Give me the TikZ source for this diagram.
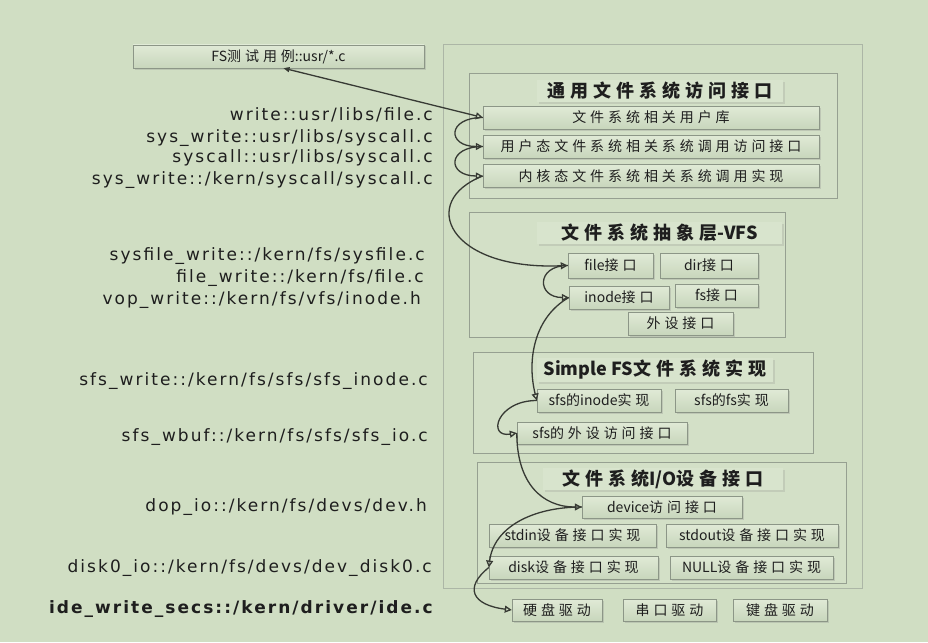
\documentclass[tikz,border=0pt]{standalone}
\usepackage{fontspec}
\setmainfont{DejaVu Sans}
\newfontfamily\srcfont[LetterSpace=12]{DejaVu Sans}
\newfontfamily\cjkfont[LetterSpace=28]{Noto Sans CJK SC}
\newfontfamily\cjkplain{Noto Sans CJK SC}
\newcommand{\lat}[1]{{\cjkplain #1}}
\usetikzlibrary{arrows.meta,shadows}
\definecolor{bgcol}{RGB}{208,222,195}
\definecolor{framecol}{RGB}{172,182,166}
\definecolor{layercol}{RGB}{150,160,145}
\definecolor{layerfill}{RGB}{211,224,199}
\definecolor{itemline}{RGB}{140,150,135}
\definecolor{itemtop}{RGB}{224,234,214}
\definecolor{itembot}{RGB}{200,214,188}
\definecolor{titlefill}{RGB}{216,228,205}
\definecolor{flowcol}{RGB}{55,58,52}
\definecolor{txtcol}{RGB}{30,30,30}
\tikzset{
  outerbox/.style={draw=framecol, fill=bgcol, line width=1pt},
  layer/.style={draw=layercol, fill=layerfill, line width=1pt},
  layertitle/.style={fill=titlefill, inner sep=0pt, text=txtcol,
    drop shadow={shadow xshift=2pt, shadow yshift=-2pt, opacity=.2},
    font=\cjkfont\fontsize{18}{19}\selectfont\bfseries},
  item/.style={draw=itemline, top color=itemtop, bottom color=itembot,
    inner sep=0pt, text=txtcol, minimum height=23,
    drop shadow={shadow xshift=1.5pt, shadow yshift=-1.5pt, opacity=.25},
    font=\cjkfont\fontsize{14}{15}\selectfont},
  src/.style={anchor=east, inner sep=0pt, text=txtcol,
    font=\srcfont\fontsize{17}{18}\selectfont},
  flow/.style={draw=flowcol, line width=1.3pt,
    -{Triangle[open, length=7pt, width=7pt]}}
}

\begin{document}
\begin{tikzpicture}[x=1pt, y=-1pt]
    % Background
    \fill[bgcol] (0,0) rectangle (928,642);
    \useasboundingbox (0,0) rectangle (928,642);

    % Test case box
    \node[item, minimum width=291, font=\cjkfont\fontsize{14}{15}\selectfont] (test) at (278.5,56.5) {\lat{FS}测试用例\lat{::usr/*.c}};

    % Outer frame
    \node[outerbox, minimum width=419, minimum height=543] (fsbox) at (652.5,316.5) {};

    % Layer 1: general access interface
    \node[layer, minimum width=368, minimum height=125] (lay1) at (653,135.5) {};
    \node[layertitle, minimum width=246, minimum height=22] (lay1t) at (660,91) {通用文件系统访问接口};
    \node[item, minimum width=336] (ulib) at (651,117.5) {文件系统相关用户库};
    \node[item, minimum width=336] (ucall) at (651,146.5) {用户态文件系统相关系统调用访问接口};
    \node[item, minimum width=336] (kcall) at (651,176) {内核态文件系统相关系统调用实现};

    % Layer 2: VFS
    \node[layer, minimum width=316, minimum height=125] (lay2) at (627,274.5) {};
    \node[layertitle, minimum width=245, minimum height=22] (lay2t) at (659.5,232.5) {文件系统抽象层\lat{-VFS}};
    \node[item, minimum width=85, minimum height=25] (vfile) at (610.5,265.5) {\lat{file}接口};
    \node[item, minimum width=98, minimum height=25] (vdir) at (709,265.5) {\lat{dir}接口};
    \node[item, minimum width=100] (vinode) at (619,297.5) {\lat{inode}接口};
    \node[item, minimum width=83] (vfs) at (716.5,295.5) {\lat{fs}接口};
    \node[item, minimum width=105] (vdev) at (680.5,323.5) {外设接口};

    % Layer 3: Simple FS
    \node[layer, minimum width=340, minimum height=101] (lay3) at (643,402.5) {};
    \node[layertitle, minimum width=236, minimum height=24] (lay3t) at (655,370) {\lat{Simple FS}文件系统实现};
    \node[item, minimum width=124] (sinode) at (599,400.5) {\lat{sfs}的\lat{inode}实现};
    \node[item, minimum width=113] (sfs) at (731.5,400.5) {\lat{sfs}的\lat{fs}实现};
    \node[item, minimum width=170, minimum height=22] (sdev) at (602,433) {\lat{sfs}的外设访问接口};

    % Layer 4: I/O device interface
    \node[layer, minimum width=369, minimum height=121] (lay4) at (661.5,522.5) {};
    \node[layertitle, minimum width=240, minimum height=22] (lay4t) at (663,479) {文件系统\lat{I/O}设备接口};
    \node[item, minimum width=160, minimum height=22] (device) at (662,507) {\lat{device}访问接口};
    \node[item, minimum width=167] (stdin) at (572.5,535.5) {\lat{stdin}设备接口实现};
    \node[item, minimum width=172] (stdout) at (752,535.5) {\lat{stdout}设备接口实现};
    \node[item, minimum width=169] (disk) at (573.5,567.5) {\lat{disk}设备接口实现};
    \node[item, minimum width=163] (null) at (751.5,567.5) {\lat{NULL}设备接口实现};

    % Drivers
    \node[item, minimum width=90, minimum height=22] (hdd) at (557,610) {硬盘驱动};
    \node[item, minimum width=93, minimum height=22] (serial) at (669.5,610) {串口驱动};
    \node[item, minimum width=94, minimum height=22] (kbd) at (780,610) {键盘驱动};

    % Source files
    \node[src] (f1) at (433,115) {write::usr/libs/file.c};
    \node[src] (f2) at (433,138) {sys\_write::usr/libs/syscall.c};
    \node[src] (f3) at (433,158) {syscall::usr/libs/syscall.c};
    \node[src] (f4) at (433,180) {sys\_write::/kern/syscall/syscall.c};
    \node[src] (f5) at (425,256) {sysfile\_write::/kern/fs/sysfile.c};
    \node[src] (f6) at (424,278) {file\_write::/kern/fs/file.c};
    \node[src] (f7) at (421,300) {vop\_write::/kern/fs/vfs/inode.h};
    \node[src] (f8) at (428,381) {sfs\_write::/kern/fs/sfs/sfs\_inode.c};
    \node[src] (f9) at (428,437) {sfs\_wbuf::/kern/fs/sfs/sfs\_io.c};
    \node[src] (f10) at (427,507) {dop\_io::/kern/fs/devs/dev.h};
    \node[src] (f11) at (432,568) {disk0\_io::/kern/fs/devs/dev\_disk0.c};
    \node[src, font=\srcfont\fontsize{17}{18}\selectfont\bfseries] (f12) at (433,609) {ide\_write\_secs::/kern/driver/ide.c};

    % Call chain
    \draw[flow, {Triangle[length=6pt, width=5pt]}-{Triangle[open, length=7pt, width=7pt]}] ([xshift=5pt]test.south) -- (ulib.west);
    \draw[flow] (ulib.west) .. controls +(-36,0) and +(-36,0) .. (ucall.west);
    \draw[flow] (ucall.west) .. controls +(-36,0) and +(-36,0) .. (kcall.west);
    \draw[flow] (kcall.west) .. controls +(-65,25) and +(-120,5) .. (vfile.west);
    \draw[flow] (vfile.west) .. controls +(-32,0) and +(-32,0) .. (vinode.west);
    \draw[flow] (vinode.west) .. controls +(-35,20) and +(-10,-40) .. (sinode.west);
    \draw[flow] (sinode.west) .. controls +(-40,0) and +(-30,5) .. (sdev.west);
    \draw[flow] (sdev.west) .. controls +(0,50) and +(-40,0) .. (device.west);
    \draw[flow] (device.west) .. controls +(-50,0) and +(5,-40) .. (disk.west);
    \draw[flow] (disk.west) .. controls +(-25,20) and +(-40,-5) .. (hdd.west);
\end{tikzpicture}
\end{document}
